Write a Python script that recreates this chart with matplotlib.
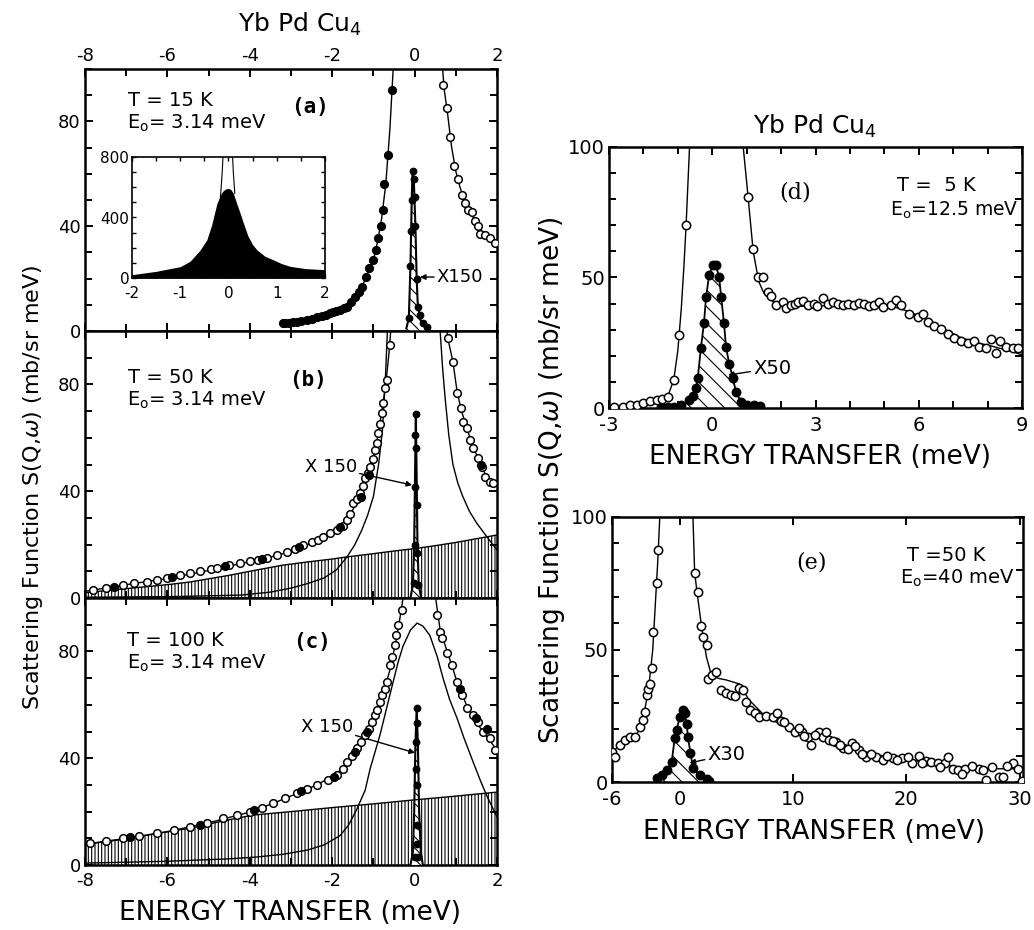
import matplotlib
matplotlib.use("Agg")
import matplotlib.pyplot as plt
from matplotlib.ticker import MultipleLocator, FixedLocator

# ---------------- (a) T = 15 K, E0 = 3.14 meV ----------------
a_left_e = [-3.2, -3.15, -3.05, -2.95, -2.85, -2.75, -2.6, -2.5, -2.37, -2.25, -2.15, -2.05, -1.98, -1.9, -1.8,
            -1.72, -1.64, -1.55, -1.45, -1.36, -1.28, -1.18, -1.1, -1.0, -0.94, -0.89, -0.82, -0.76, -0.74, -0.64, -0.55]
a_left_s = [3.0, 3.0, 3.2, 3.3, 3.4, 3.8, 4.2, 4.7, 5.3, 5.8, 6.2, 6.8, 7.3, 7.8, 8.2,
            8.7, 9.2, 11.0, 13.0, 15.0, 16.8, 20.6, 24.0, 27.0, 31.0, 35.5, 40.0, 46.0, 56.0, 67.0, 92.0]
a_right_e = [0.69, 0.79, 0.86, 0.96, 1.05, 1.15, 1.22, 1.30, 1.39, 1.47, 1.54, 1.59, 1.71, 1.83, 1.95]
a_right_s = [94, 85, 74, 63, 58, 52, 49, 46, 45.5, 42, 40, 37, 36.6, 35.5, 33.6]
a_fit_left_e = [-3.2, -2.8, -2.4, -2.0, -1.7, -1.5, -1.3, -1.1, -1.0, -0.9, -0.8, -0.7, -0.6, -0.52, -0.45]
a_fit_left_s = [3.0, 3.6, 5.1, 7.2, 9.3, 12.0, 16.0, 23.5, 27.0, 34.0, 43.0, 56.0, 77.0, 100.0, 130.0]
a_fit_right_e = [0.62, 0.67, 0.72, 0.8, 0.9, 1.0, 1.1, 1.2, 1.3, 1.4, 1.5, 1.6, 1.7, 1.8, 1.9, 2.0]
a_fit_right_s = [140, 102, 92, 83, 70, 61, 55, 50, 46, 44, 41, 38.5, 37, 35.8, 34.5, 33]
a_el_e = [-0.2, -0.14, -0.1, -0.07, -0.05, -0.02, 0.02, 0.05, 0.08, 0.15, 0.25, 0.35]
a_el_s = [1, 5, 25, 50, 61, 58, 40, 20, 9, 4, 2, 1]
a_elpt_e = [-0.14, -0.1, -0.08, -0.07, -0.05, -0.02, 0.0, 0.02, 0.05, 0.08, 0.12, 0.2, 0.3]
a_elpt_s = [5, 25, 38, 50, 61, 58, 51, 40, 20, 9, 6, 3, 1.5]

# inset of (a)
ins_e = [-2.0, -1.5, -1.0, -0.8, -0.6, -0.45, -0.35, -0.24, -0.15, -0.1, -0.05, 0.0, 0.05,
         0.1, 0.17, 0.25, 0.31, 0.4, 0.5, 0.59, 0.75, 0.93, 1.1, 1.28, 1.6, 2.0]
ins_s = [22, 44, 75, 110, 180, 252, 350, 493, 560, 580, 590, 592, 585,
         560, 493, 420, 362, 280, 220, 186, 145, 120, 95, 77, 62, 55]
ins_line_e = [-0.17, -0.13, -0.1, 0.07, 0.1, 0.13]
ins_line_s = [520, 700, 900, 900, 700, 560]

# ---------------- (b) T = 50 K ----------------
b_open_e = [-7.8, -7.5, -7.08, -6.8, -6.5, -6.25, -6.0, -5.7, -5.45, -5.2,
            -4.95, -4.8, -4.5, -4.24, -4.0, -3.8, -3.58, -3.35, -3.1, -2.9,
            -2.7, -2.5, -2.35, -2.22, -2.05, -1.89, -1.75, -1.64, -1.56, -1.49,
            -1.41, -1.33, -1.26, -1.2, -1.14, -1.08, -1.02, -0.96, -0.92, -0.89,
            -0.85, -0.8, -0.76, -0.72, -0.67, -0.6,
            0.81, 0.93, 1.03, 1.13, 1.17, 1.27, 1.34, 1.42, 1.54, 1.63, 1.71, 1.83, 1.9]
b_open_s = [3, 3.8, 4.9, 5.5, 6.0, 6.7, 7.5, 8.6, 9.4, 10.2,
            10.8, 11.2, 12.2, 13.1, 13.9, 14.3, 15, 16, 17.2, 18.5,
            19.8, 21, 21.8, 22.8, 24.5, 25.5, 27, 29.2, 31.5, 35.6,
            37, 39.3, 42, 45, 47, 49, 52, 55.4, 58, 61.8,
            65, 69.3, 73, 78.7, 81.6, 94.8,
            97.4, 88.4, 76.8, 71.2, 66, 63.7, 59.2, 56, 52.4, 49, 45.3, 43.4, 43]
b_fill_e = [-7.3, -5.9, -4.6, -3.7, -2.8, -1.8, -1.3, -1.1, 1.6]
b_fill_s = [4.2, 7.8, 11.8, 14.7, 19, 26.5, 38, 46, 50]
b_fit_left_e = [-8, -7, -6, -5, -4, -3.5, -3, -2.5, -2.2, -2.0, -1.8, -1.6, -1.4, -1.2, -1.0,
                -0.9, -0.8, -0.7, -0.62, -0.56, -0.5]
b_fit_left_s = [2.5, 5, 7.3, 10.3, 13.6, 15.3, 17.5, 20.5, 22.8, 24.5, 26.8, 30, 36, 44.5, 53,
                60, 69.5, 80, 92, 104, 125]
b_fit_right_e = [0.7, 0.76, 0.81, 0.93, 1.03, 1.13, 1.27, 1.42, 1.54, 1.71, 1.83, 2.0]
b_fit_right_s = [125, 103, 97, 88.5, 77.5, 70.5, 63.5, 56.5, 52.5, 46.5, 44, 42]
b_qe_left_e = [-8, -6, -5, -4.2, -3.5, -3.0, -2.6, -2.2, -1.9, -1.64, -1.45, -1.28, -1.14, -1.0,
               -0.87, -0.78, -0.71, -0.66, -0.62]
b_qe_left_s = [0.3, 0.5, 0.8, 1.1, 2.2, 3.7, 5.4, 7.5, 10.5, 15.4, 20, 25.5, 31, 38,
               50.5, 63, 82, 100, 120]
b_qe_right_e = [0.58, 0.62, 0.68, 0.74, 0.83, 0.93, 1.05, 1.17, 1.33, 1.51, 1.75, 2.0]
b_qe_right_s = [120, 100, 86, 75, 61, 50, 43, 38, 32.5, 28, 23, 18]
b_bg_e = [-8, -7, -6, -5.45, -4.5, -3.83, -3.2, -2.6, -2.0, -1.64, -1.0, -0.5, 0.0, 0.5, 1.0, 1.5, 2.0]
b_bg_s = [2, 3.5, 5, 6, 8.5, 10.5, 12.3, 13.5, 14.6, 15.4, 16.6, 17.6, 18.5, 19.6, 20.8, 22.2, 23.6]
b_el_e = [-0.1, -0.04, -0.01, 0.01, 0.03, 0.05, 0.07, 0.1, 0.16]
b_el_s = [0, 5, 20, 45, 69, 45, 20, 5, 0]
b_elpt_e = [0.03, 0.02, 0.04, 0.01, 0.05, 0.0, 0.06, -0.02, 0.09]
b_elpt_s = [69, 61, 56, 41.6, 35, 20, 17, 5.6, 5]

# ---------------- (c) T = 100 K ----------------
c_open_e = [-7.88, -7.5, -7.07, -6.7, -6.25, -5.85, -5.45, -5.05, -4.65, -4.3,
            -4.0, -3.7, -3.43, -3.15, -2.86, -2.6, -2.37, -2.1, -1.88, -1.75,
            -1.64, -1.52, -1.4, -1.3, -1.2, -1.1, -1.03, -0.97, -0.91, -0.85,
            -0.79, -0.73, -0.67, -0.6, -0.54, -0.48, -0.44, -0.4, -0.31,
            0.54, 0.62, 0.66, 0.79, 0.91, 1.03, 1.15, 1.27, 1.42, 1.54, 1.66, 1.83, 1.95]
c_open_s = [8.2, 9, 10, 11, 12, 13, 14.3, 15.8, 17.5, 18.7,
            20, 21.5, 23.2, 25, 27, 28.5, 30, 32, 33.7, 36,
            38.6, 41, 43.8, 46, 48.7, 51, 53.5, 56, 58, 61,
            63.7, 66, 68.5, 75, 78, 82.4, 86, 90, 95.5,
            93.6, 87.3, 85, 79.4, 75, 68.5, 63.7, 58.8, 56, 53.5, 49.8, 47.6, 43]
c_fill_e = [-6.9, -5.2, -3.9, -2.75, -1.95, -1.45, -1.15, 1.1, 1.5, 1.75]
c_fill_s = [10.5, 15, 20.5, 27.6, 33, 42.5, 50, 66, 55, 51]
c_fit_left_e = [-8, -7, -6, -5, -4, -3.4, -2.9, -2.4, -1.9, -1.6, -1.3, -1.0, -0.8, -0.6,
                -0.45, -0.35, -0.28, -0.2]
c_fit_left_s = [7.8, 10, 12.5, 15.8, 19.8, 23.3, 26.5, 29.8, 34, 39, 46, 54, 62, 73,
                84, 93, 100, 110]
c_fit_right_e = [0.45, 0.52, 0.62, 0.79, 0.91, 1.03, 1.15, 1.27, 1.42, 1.54, 1.66, 1.83, 2.0]
c_fit_right_s = [110, 99, 88, 80, 74.5, 68.5, 64, 59.5, 55.5, 52.5, 50, 46.5, 43]
c_qe_e = [-8, -6, -4.5, -3.83, -3.2, -2.6, -2.2, -1.81, -1.6, -1.4, -1.2, -1.08, -0.84, -0.6,
          -0.4, -0.28, -0.1, 0.06, 0.2, 0.37, 0.55, 0.69, 0.85, 1.03, 1.2, 1.42, 1.6, 1.75, 2.0]
c_qe_s = [0.7, 1.4, 2.3, 3, 4, 5.6, 7.5, 11, 15, 21, 28, 36, 48.7, 63.7,
          76, 82, 88, 90.6, 89.5, 86, 78, 70, 62, 55, 47.5, 38.6, 31.5, 26, 18]
c_bg_e = [-8, -7, -6.25, -5.45, -4.65, -3.92, -3, -2, -1, 0, 1, 2]
c_bg_s = [7.7, 9.8, 11.8, 13.8, 16.5, 18.7, 20.0, 21.5, 22.9, 24.4, 25.8, 27.3]
c_el_e = [-0.1, -0.04, -0.01, 0.02, 0.05, 0.08, 0.11, 0.15, 0.2]
c_el_s = [0, 5, 20, 45, 59, 45, 20, 5, 0]
c_elpt_e = [0.05, 0.05, 0.04, 0.03, 0.06, 0.07, 0.05, 0.02, 0.09]
c_elpt_s = [58.8, 53, 46, 36, 30, 15, 8, 3, 3]

# ---------------- (d) T = 5 K, E0 = 12.5 meV ----------------
d_left_e = [-2.85, -2.6, -2.4, -2.2, -2.0, -1.8, -1.6, -1.45, -1.29, -1.1, -0.96, -0.76]
d_left_s = [0.5, 0.3, 1.0, 1.2, 2.0, 2.5, 3.0, 3.5, 4.3, 10.7, 28, 70]
d_right_e = [1.04, 1.19, 1.33, 1.48, 1.62, 1.72, 1.86, 2.05, 2.15, 2.29,
             2.4, 2.5, 2.65, 2.79, 2.96, 3.05, 3.22, 3.37, 3.5, 3.66,
             3.8, 3.95, 4.12, 4.25, 4.41, 4.55, 4.7, 4.85, 4.96, 5.2,
             5.35, 5.49, 5.72, 5.98, 6.13, 6.27, 6.45, 6.64, 6.84, 7.03,
             7.22, 7.42, 7.6, 7.76, 7.96, 8.1, 8.25, 8.35, 8.54, 8.74, 8.89]
d_right_s = [81, 61, 50, 50, 44.6, 43, 39.5, 40.6, 38.5, 39.5,
             40, 40.6, 41, 39.5, 40, 39, 42, 40, 40.5, 40,
             39.6, 40, 39.5, 40.3, 40, 39, 39.5, 40.5, 38.7, 39.5,
             41.5, 39.4, 36, 35, 36, 33, 31.6, 30.3, 28.4, 27,
             25.8, 25, 25.8, 23.2, 23, 26.3, 21, 25.8, 23.2, 23, 23]
d_fit_left_e = [-3, -2.5, -2.0, -1.7, -1.5, -1.36, -1.25, -1.12, -1.0, -0.9, -0.82, -0.76, -0.7, -0.66, -0.62]
d_fit_left_s = [0, 0.5, 1.3, 2.2, 3.0, 3.8, 6.0, 10.7, 22, 38, 55, 70, 88, 100, 115]
d_fit_right_e = [0.85, 0.9, 1.04, 1.19, 1.35, 1.5, 1.7, 1.9, 2.2, 2.6, 3.0, 3.5, 4.0, 4.5, 5.0,
                 5.3, 5.7, 6.27, 6.7, 7.22, 7.7, 8.18, 8.6, 9.0]
d_fit_right_s = [115, 100, 81, 60, 48.5, 44, 41.3, 40, 39.4, 39, 39, 39.3, 39.5, 39.3, 39,
                 38.7, 37, 33.7, 30.5, 27, 25, 23.5, 22, 20.4]
d_el_e = [-1.5, -1.3, -1.1, -0.9, -0.67, -0.57, -0.47, -0.42, -0.33, -0.24, -0.18, -0.09, 0.02,
          0.11, 0.2, 0.26, 0.34, 0.4, 0.49, 0.6, 0.69, 0.84, 1.0, 1.2, 1.4]
d_el_s = [0.5, 0.3, 0.5, 1.0, 3.0, 4.5, 7.7, 11.5, 23, 32.6, 42.5, 51, 54.8,
          54.6, 50, 42.5, 32.6, 23.4, 17, 11.5, 6, 2.3, 1.2, 1.0, 0.8]

# ---------------- (e) T = 50 K, E0 = 40 meV ----------------
e_left_e = [-6, -5.7, -5.3, -4.86, -4.4, -4.0, -3.54, -3.25, -3.05, -2.95, -2.8, -2.62, -2.5, -2.35, -2.05, -1.96]
e_left_s = [11.3, 9.4, 14, 15.8, 17, 17, 20.8, 23.4, 26.4, 33, 35, 37, 43, 56.6, 75, 87.5]
e_right_e = [1.3, 1.56, 1.9, 2.0, 2.35, 2.44, 2.8, 3.2, 3.67, 4.1,
             4.5, 4.9, 5.25, 5.55, 5.85, 6.15, 6.6, 7.0, 7.6, 8.2,
             8.6, 8.9, 9.65, 10.2, 10.8, 11.3, 11.6, 12.3, 12.6, 13.2,
             13.8, 14.4, 15.2, 15.8, 16.4, 17.3, 17.9, 18.8, 19.6, 20.5,
             21.1, 21.7, 22.2, 22.8, 23.4, 23.7, 24.1, 24.6, 25.2, 26.4,
             27.0, 27.6, 28.2, 28.5, 29.4, 29.9, 30.2,
             9.2, 10.5, 11.0, 11.9, 12.9, 13.5, 14.1, 14.8, 15.5, 16.1,
             16.9, 18.3, 19.2, 20.1, 21.4, 23.0, 24.9, 25.8, 26.8, 28.9]
e_right_s = [79, 71.7, 59, 54.7, 51.7, 39, 40.4, 41.5, 34.7, 33.5,
             33, 32.5, 35.5, 34.7, 30.2, 27, 26, 24.5, 25, 24.5,
             26, 23, 20.8, 19, 19, 17, 14, 18.7, 17, 16,
             15, 13, 14.7, 12, 9.4, 9.4, 8.2, 9, 9, 7.2,
             10, 8, 7.5, 7, 7, 9.4, 5, 4.7, 5, 5,
             0.7, 5.7, 2, 2, 7, 5, 0.5,
             22.5, 20.5, 17.5, 17.8, 19, 15.5, 14, 12.5, 13.5, 10.5,
             10.7, 9.8, 8.3, 9.6, 7.3, 5.5, 3, 6.2, 4.5, 6.2]
e_fit_left_e = [-6, -5, -4, -3.8, -3.25, -2.9, -2.66, -2.4, -2.2, -1.95, -1.78, -1.7]
e_fit_left_s = [11, 15.5, 17.5, 18, 24, 32, 39.6, 50, 65, 84, 100, 112]
e_fit_right_e = [1.05, 1.15, 1.3, 1.56, 1.9, 2.35, 2.8, 3.5, 4.1, 5.25, 6.1, 7.6, 9.9, 11.5, 12.9,
                 14.3, 15.8, 18.8, 21.7, 24.6, 27.6, 30.4]
e_fit_right_s = [115, 100, 79, 70, 59, 47, 40, 39, 38.5, 37, 31, 24.5, 19.6, 18, 17,
                 14.5, 12, 9, 7.5, 5.7, 5, 5]
e_el_e = [-2.05, -1.6, -1.17, -0.73, -0.46, -0.29, -0.02, 0.24, 0.41, 0.6, 0.7, 0.93, 1.15, 1.75, 2.35, 2.6]
e_el_s = [1.5, 2.6, 4.5, 7.5, 16.6, 19.6, 24.5, 27, 26, 22, 17, 11, 5.3, 2.6, 1, 0.5]

plt.rcParams['font.family'] = ['DejaVu Sans']
plt.rcParams['mathtext.fontset'] = 'dejavusans'
plt.rcParams['axes.unicode_minus'] = False
plt.rcParams['hatch.linewidth'] = 0.8

W, H = 1034, 930
fig = plt.figure(figsize=(W / 100, H / 100), dpi=100)


def box(x0, y0, x1, y1):
    # pixel rectangle -> figure fraction
    return [x0 / W, 1 - y1 / H, (x1 - x0) / W, (y1 - y0) / H]


def style(ax, lw=1.8, size=13):
    for s in ax.spines.values():
        s.set_linewidth(lw)
    ax.tick_params(which='both', direction='in', top=True, right=True, width=1.4, labelsize=size, pad=3)
    ax.tick_params(which='major', length=6)
    ax.tick_params(which='minor', length=5)


def pts(ax, e, s, filled=False, ms=5.5):
    ax.plot(e, s, 'o', ms=ms, mfc='k' if filled else 'white', mec='k', mew=1.1, zorder=5)


def line(ax, e, s, lw=1.0):
    ax.plot(e, s, '-', color='k', lw=lw, zorder=4)


def left_panel(ax):
    ax.set_xlim(-8, 2)
    ax.set_ylim(0, 100)
    ax.xaxis.set_major_locator(MultipleLocator(2))
    ax.xaxis.set_minor_locator(MultipleLocator(1))
    ax.yaxis.set_major_locator(FixedLocator([0, 40, 80]))
    ax.yaxis.set_minor_locator(MultipleLocator(10))
    style(ax)


arrow = dict(arrowstyle='-|>', lw=1, color='k', mutation_scale=8, shrinkA=0, shrinkB=0)

ax_a = fig.add_axes(box(85, 69, 497, 331))
ax_b = fig.add_axes(box(85, 331, 497, 598))
ax_c = fig.add_axes(box(85, 598, 497, 865))
for ax in (ax_a, ax_b, ax_c):
    left_panel(ax)
ax_a.tick_params(labeltop=True, labelbottom=False)
ax_b.tick_params(labelbottom=False)
ax_c.tick_params(axis='x', pad=5)

# (a)
pts(ax_a, a_left_e, a_left_s, filled=True)
pts(ax_a, a_right_e, a_right_s)
line(ax_a, a_fit_left_e, a_fit_left_s)
line(ax_a, a_fit_right_e, a_fit_right_s)
ax_a.fill_between(a_el_e, 0, a_el_s, facecolor='white', edgecolor='k', hatch='\\\\\\', lw=0, zorder=3)
line(ax_a, a_el_e, a_el_s, lw=1.5)
pts(ax_a, a_elpt_e, a_elpt_s, filled=True, ms=4.5)
ax_a.annotate('X150', xy=(0.13, 20.6), xytext=(0.54, 20.6), fontsize=13, va='center', ha='left',
              arrowprops=arrow)

# (b)
ax_b.fill_between(b_bg_e, 0, b_bg_s, facecolor='white', edgecolor='k', hatch='|||||', lw=0, zorder=1)
line(ax_b, b_bg_e, b_bg_s)
line(ax_b, b_qe_left_e, b_qe_left_s)
line(ax_b, b_qe_right_e, b_qe_right_s)
line(ax_b, b_fit_left_e, b_fit_left_s)
line(ax_b, b_fit_right_e, b_fit_right_s)
pts(ax_b, b_open_e, b_open_s)
pts(ax_b, b_fill_e, b_fill_s, filled=True)
ax_b.fill_between(b_el_e, 0, b_el_s, facecolor='white', edgecolor='k', hatch='\\\\\\', lw=0, zorder=3)
line(ax_b, b_el_e, b_el_s, lw=1.5)
pts(ax_b, b_elpt_e, b_elpt_s, filled=True, ms=4.5)
ax_b.annotate('X 150', xy=(-0.06, 42.3), xytext=(-1.4, 49), fontsize=13, va='center', ha='right',
              arrowprops=arrow)

# (c)
ax_c.fill_between(c_bg_e, 0, c_bg_s, facecolor='white', edgecolor='k', hatch='|||||', lw=0, zorder=1)
line(ax_c, c_bg_e, c_bg_s)
line(ax_c, c_qe_e, c_qe_s)
line(ax_c, c_fit_left_e, c_fit_left_s)
line(ax_c, c_fit_right_e, c_fit_right_s)
pts(ax_c, c_open_e, c_open_s)
pts(ax_c, c_fill_e, c_fill_s, filled=True)
ax_c.fill_between(c_el_e, 0, c_el_s, facecolor='white', edgecolor='k', hatch='\\\\\\', lw=0, zorder=3)
line(ax_c, c_el_e, c_el_s, lw=1.5)
pts(ax_c, c_elpt_e, c_elpt_s, filled=True, ms=4.5)
ax_c.annotate('X 150', xy=(0.01, 42), xytext=(-1.5, 51.7), fontsize=13, va='center', ha='right',
              arrowprops=arrow)

# inset of (a)
ax_in = fig.add_axes(box(132, 157, 325, 278))
ax_in.fill_between(ins_e, 0, ins_s, color='k', lw=0)
ax_in.plot(ins_line_e, ins_line_s, color='k', lw=0.8)
ax_in.set_xlim(-2, 2)
ax_in.set_ylim(0, 800)
ax_in.xaxis.set_major_locator(MultipleLocator(1))
ax_in.xaxis.set_minor_locator(MultipleLocator(0.5))
ax_in.yaxis.set_major_locator(MultipleLocator(400))
ax_in.yaxis.set_minor_locator(MultipleLocator(100))
style(ax_in, lw=1.2, size=11)
ax_in.tick_params(which='both', length=3, width=1)
ax_in.tick_params(axis='y', pad=2)
ax_in.tick_params(axis='x', pad=6)

# (d)
ax_d = fig.add_axes(box(609, 147, 1022, 408))
ax_d.set_xlim(-3, 9)
ax_d.set_ylim(0, 100)
ax_d.xaxis.set_major_locator(MultipleLocator(3))
ax_d.xaxis.set_minor_locator(MultipleLocator(1))
ax_d.yaxis.set_major_locator(MultipleLocator(50))
ax_d.yaxis.set_minor_locator(MultipleLocator(10))
style(ax_d, size=14)
ax_d.tick_params(axis='x', pad=6)
ax_d.fill_between(d_el_e, 0, d_el_s, facecolor='white', edgecolor='k', hatch='\\\\', lw=0, zorder=2)
line(ax_d, d_el_e, d_el_s, lw=1.3)
pts(ax_d, d_el_e, d_el_s, filled=True, ms=6)
line(ax_d, d_fit_left_e, d_fit_left_s)
line(ax_d, d_fit_right_e, d_fit_right_s)
pts(ax_d, d_left_e, d_left_s, ms=6)
pts(ax_d, d_right_e, d_right_s, ms=6)
ax_d.annotate('X50', xy=(0.46, 12.6), xytext=(1.19, 15.3), fontsize=14, va='center', ha='left',
              arrowprops=arrow)

# (e)
ax_e = fig.add_axes(box(612, 517, 1023, 782))
ax_e.set_xlim(-6, 30.3)
ax_e.set_ylim(0, 100)
ax_e.xaxis.set_major_locator(FixedLocator([-6, 0, 10, 20, 30]))
ax_e.yaxis.set_major_locator(MultipleLocator(50))
ax_e.yaxis.set_minor_locator(MultipleLocator(10))
style(ax_e, size=14)
ax_e.tick_params(axis='x', pad=6)
ax_e.fill_between(e_el_e, 0, e_el_s, facecolor='white', edgecolor='k', hatch='\\\\', lw=0, zorder=2)
line(ax_e, e_el_e, e_el_s, lw=1.3)
pts(ax_e, e_el_e, e_el_s, filled=True, ms=6)
line(ax_e, e_fit_left_e, e_fit_left_s)
line(ax_e, e_fit_right_e, e_fit_right_s)
pts(ax_e, e_left_e, e_left_s, ms=6)
pts(ax_e, e_right_e, e_right_s, ms=6)
ax_e.annotate('X30', xy=(0.85, 7.2), xytext=(2.44, 10.2), fontsize=14, va='center', ha='left',
              arrowprops=arrow)


def ftext(x, y, s, **kw):
    fig.text(x / W, 1 - y / H, s, **kw)


# panel annotations
for (tx, ty, t), (ex, ey, e0) in [((128, 100, 'T = 15 K'), (127, 123, '3.14 meV')),
                                  ((128, 377, 'T = 50 K'), (127, 400, '3.14 meV')),
                                  ((127, 640, 'T = 100 K'), (127, 663, '3.14 meV'))]:
    ftext(tx, ty, t, fontsize=14, va='center')
    ftext(ex, ey, r'E$_{\rm o}$= ' + e0, fontsize=14, va='center')
ftext(897, 185, 'T =  5 K', fontsize=14, va='center')
ftext(890, 210, r'E$_{\rm o}$=12.5 meV', fontsize=13.5, va='center')
ftext(907, 555, 'T =50 K', fontsize=14, va='center')
ftext(900, 578, r'E$_{\rm o}$=40 meV', fontsize=14, va='center')

for x, y, s in [(310, 107, '(a)'), (308, 380, '(b)'), (312, 642, '(c)')]:
    ftext(x, y, s, fontsize=15, family='DejaVu Sans Mono', weight='bold', ha='center', va='center')
for x, y, s in [(795, 193, '(d)'), (812, 563, '(e)')]:
    ftext(x, y, s, fontsize=16, family='DejaVu Serif', ha='center', va='center')

ftext(300, 24, r'Yb Pd Cu$_4$', fontsize=18, ha='center', va='center')
ftext(815, 126, r'Yb Pd Cu$_4$', fontsize=18, ha='center', va='center')

ftext(290, 913, 'ENERGY TRANSFER (meV)', fontsize=19, ha='center', va='center')
ftext(820, 457, 'ENERGY TRANSFER (meV)', fontsize=19, ha='center', va='center')
ftext(814, 832, 'ENERGY TRANSFER (meV)', fontsize=19, ha='center', va='center')

ftext(33, 487, r'Scattering Function S(Q,$\omega$) (mb/sr meV)', fontsize=16,
      rotation=90, ha='center', va='center')
ftext(552, 480, r'Scattering Function S(Q,$\omega$) (mb/sr meV)', fontsize=19,
      rotation=90, ha='center', va='center')

fig.savefig('out.png', dpi=100)
